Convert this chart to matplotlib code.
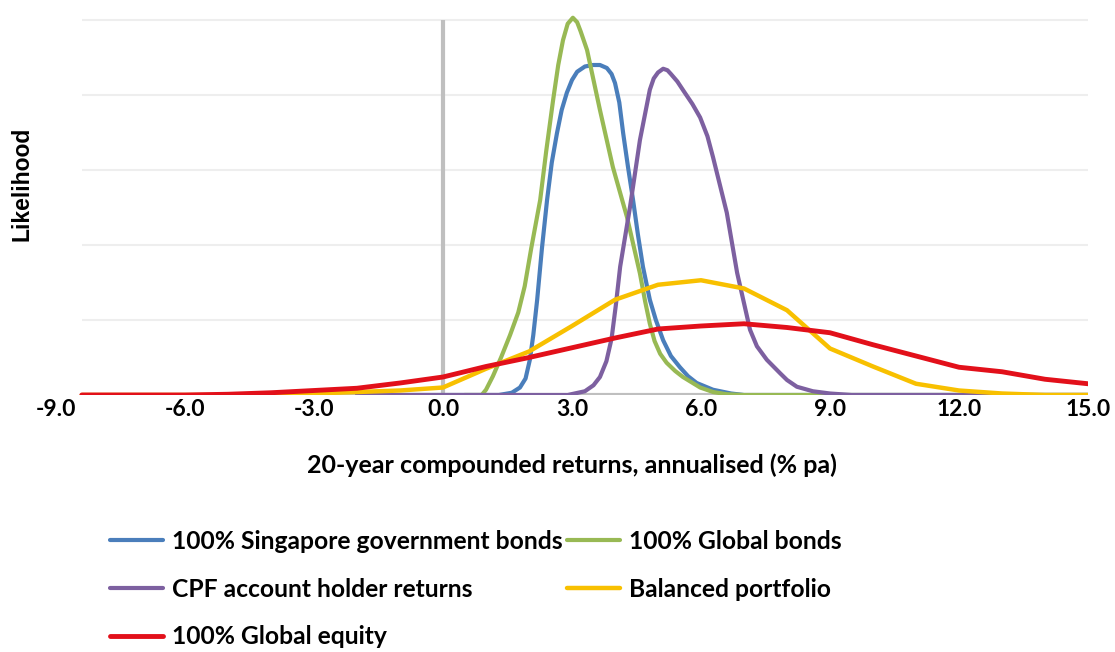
import matplotlib
matplotlib.use("Agg")
import matplotlib.pyplot as plt

# ---------------- data ----------------
xticks = [-9.0, -6.0, -3.0, 0.0, 3.0, 6.0, 9.0, 12.0, 15.0]
xtick_labels = ["-9.0", "-6.0", "-3.0", "0.0", "3.0", "6.0", "9.0", "12.0", "15.0"]
grid_levels = [1, 2, 3, 4, 5]

sgb_x = [-1.0, 1.3, 1.6, 1.79, 1.92, 2.02, 2.1, 2.19, 2.3, 2.42, 2.53, 2.65, 2.76, 2.88,
         3.0, 3.12, 3.3, 3.49, 3.65, 3.81, 3.92, 4.0, 4.1, 4.19, 4.3, 4.42, 4.53, 4.65,
         4.81, 4.95, 5.12, 5.3, 5.51, 5.7, 5.9, 6.28, 6.7, 7.0, 15.0]
sgb_y = [0.0, 0.0, 0.03, 0.1, 0.22, 0.47, 0.8, 1.27, 1.95, 2.6, 3.1, 3.49, 3.8, 4.03,
         4.2, 4.31, 4.38, 4.4, 4.4, 4.36, 4.28, 4.16, 3.9, 3.49, 3.05, 2.6, 2.15, 1.71,
         1.27, 1.0, 0.73, 0.52, 0.37, 0.25, 0.16, 0.07, 0.02, 0.0, 0.0]

gb_x = [0.5, 0.9, 1.0, 1.16, 1.35, 1.56, 1.75, 1.9, 2.05, 2.26, 2.4, 2.56, 2.68, 2.79,
        2.9, 3.02, 3.12, 3.2, 3.35, 3.65, 3.95, 4.28, 4.58, 4.7, 4.81, 4.92, 5.05, 5.2,
        5.4, 5.58, 5.98, 6.28, 6.6, 7.0, 15.0]
gb_y = [0.0, 0.0, 0.07, 0.25, 0.5, 0.8, 1.1, 1.45, 1.95, 2.6, 3.25, 3.93, 4.4, 4.73,
        4.95, 5.03, 4.97, 4.85, 4.6, 3.8, 3.04, 2.37, 1.62, 1.25, 0.95, 0.72, 0.55, 0.43,
        0.32, 0.24, 0.1, 0.04, 0.01, 0.0, 0.0]

cpf_x = [-2.0, 2.9, 3.3, 3.5, 3.65, 3.8, 3.92, 4.02, 4.12, 4.35, 4.58, 4.81, 4.9, 5.0,
         5.12, 5.22, 5.3, 5.45, 5.6, 5.8, 5.98, 6.15, 6.28, 6.6, 6.84, 7.14, 7.3, 7.53,
         7.84, 8.0, 8.23, 8.6, 9.0, 9.5, 15.0]
cpf_y = [0.0, 0.0, 0.05, 0.13, 0.24, 0.45, 0.75, 1.2, 1.71, 2.51, 3.4, 4.07, 4.22, 4.3,
         4.35, 4.33, 4.28, 4.18, 4.05, 3.88, 3.7, 3.45, 3.17, 2.43, 1.63, 0.87, 0.65, 0.47,
         0.29, 0.2, 0.11, 0.05, 0.02, 0.0, 0.0]

bal_x = [-8.4, -5.0, -4.0, -3.0, -2.0, -1.0, 0.0, 1.0, 2.0, 3.0, 4.0, 5.0, 6.0,
         7.0, 8.0, 9.0, 10.0, 11.0, 12.0, 13.0, 14.0, 15.0]
bal_y = [0.0, 0.0, 0.01, 0.02, 0.04, 0.06, 0.1, 0.35, 0.58, 0.92, 1.27, 1.47, 1.53,
         1.42, 1.13, 0.62, 0.38, 0.15, 0.06, 0.02, 0.0, 0.0]

eq_x = [-8.4, -6.0, -5.0, -4.0, -3.0, -2.0, -1.0, 0.0, 1.0, 2.0, 3.0, 4.0, 5.0, 6.0,
        7.0, 8.0, 9.0, 10.0, 11.0, 12.0, 13.0, 14.0, 15.0]
eq_y = [0.0, 0.0, 0.01, 0.03, 0.06, 0.09, 0.16, 0.24, 0.38, 0.5, 0.63, 0.76, 0.88, 0.92,
        0.95, 0.9, 0.83, 0.67, 0.52, 0.37, 0.31, 0.21, 0.15]

series = [
    ("100% Singapore government bonds", sgb_x, sgb_y, "#4A7EBB", 3.0),
    ("100% Global bonds", gb_x, gb_y, "#98B954", 3.0),
    ("CPF account holder returns", cpf_x, cpf_y, "#7D60A0", 3.0),
    ("Balanced portfolio", bal_x, bal_y, "#F8C000", 3.2),
    ("100% Global equity", eq_x, eq_y, "#E2101A", 3.5),
]

# ---------------- figure ----------------
W, H = 1115, 652
fig = plt.figure(figsize=(W / 100, H / 100), dpi=100)
left_px, right_px, base_px, top_px = 56, 1088, 395, 12.5
ax = fig.add_axes([left_px / W, 1 - base_px / H, (right_px - left_px) / W, (base_px - top_px) / H])
ax.set_xlim(-9, 15)
ax.set_ylim(0, 5.1)

x_start = -8.4
ax.hlines(grid_levels, x_start, 15, colors="#EEEEEE", linewidth=1.5, zorder=0)
ax.hlines([0], x_start, 15, colors="#BFBFBF", linewidth=3, zorder=1)
ax.vlines([0], 0, 5, colors="#BFBFBF", linewidth=3, zorder=1)

handles = {}
for name, xs, ys, col, lw in series:
    ln, = ax.plot(xs, ys, color=col, linewidth=lw, solid_capstyle="round",
                  solid_joinstyle="round", zorder=3)
    handles[name] = ln

for s in ax.spines.values():
    s.set_visible(False)
ax.set_yticks([])
ax.set_xticks(xticks)
ax.set_xticklabels(xtick_labels)
ax.tick_params(axis="x", length=0, pad=3, labelsize=16.5)
for lab in ax.get_xticklabels():
    lab.set_fontfamily("Lato")
    lab.set_fontweight("bold")

ax.set_xlabel("20-year compounded returns, annualised (% pa)", fontsize=18,
              fontfamily="Lato", fontweight="bold", labelpad=24)

fig.text(22 / W, 1 - 184 / H, "Likelihood", rotation=90, ha="center", va="center",
         fontsize=16.5, fontfamily="Liberation Sans", fontweight="bold")

order = ["100% Singapore government bonds", "CPF account holder returns", "100% Global equity",
         "100% Global bonds", "Balanced portfolio"]
fig.legend([handles[n] for n in order], order, ncol=2, loc="upper left",
           bbox_to_anchor=(110 / W, 1 - 530 / H), frameon=False,
           prop={"family": "Lato", "weight": "bold", "size": 17.7},
           handlelength=2.15, handletextpad=0.37, columnspacing=0.2,
           labelspacing=1.0, borderaxespad=0, borderpad=0)

fig.savefig("out.png", dpi=100)
